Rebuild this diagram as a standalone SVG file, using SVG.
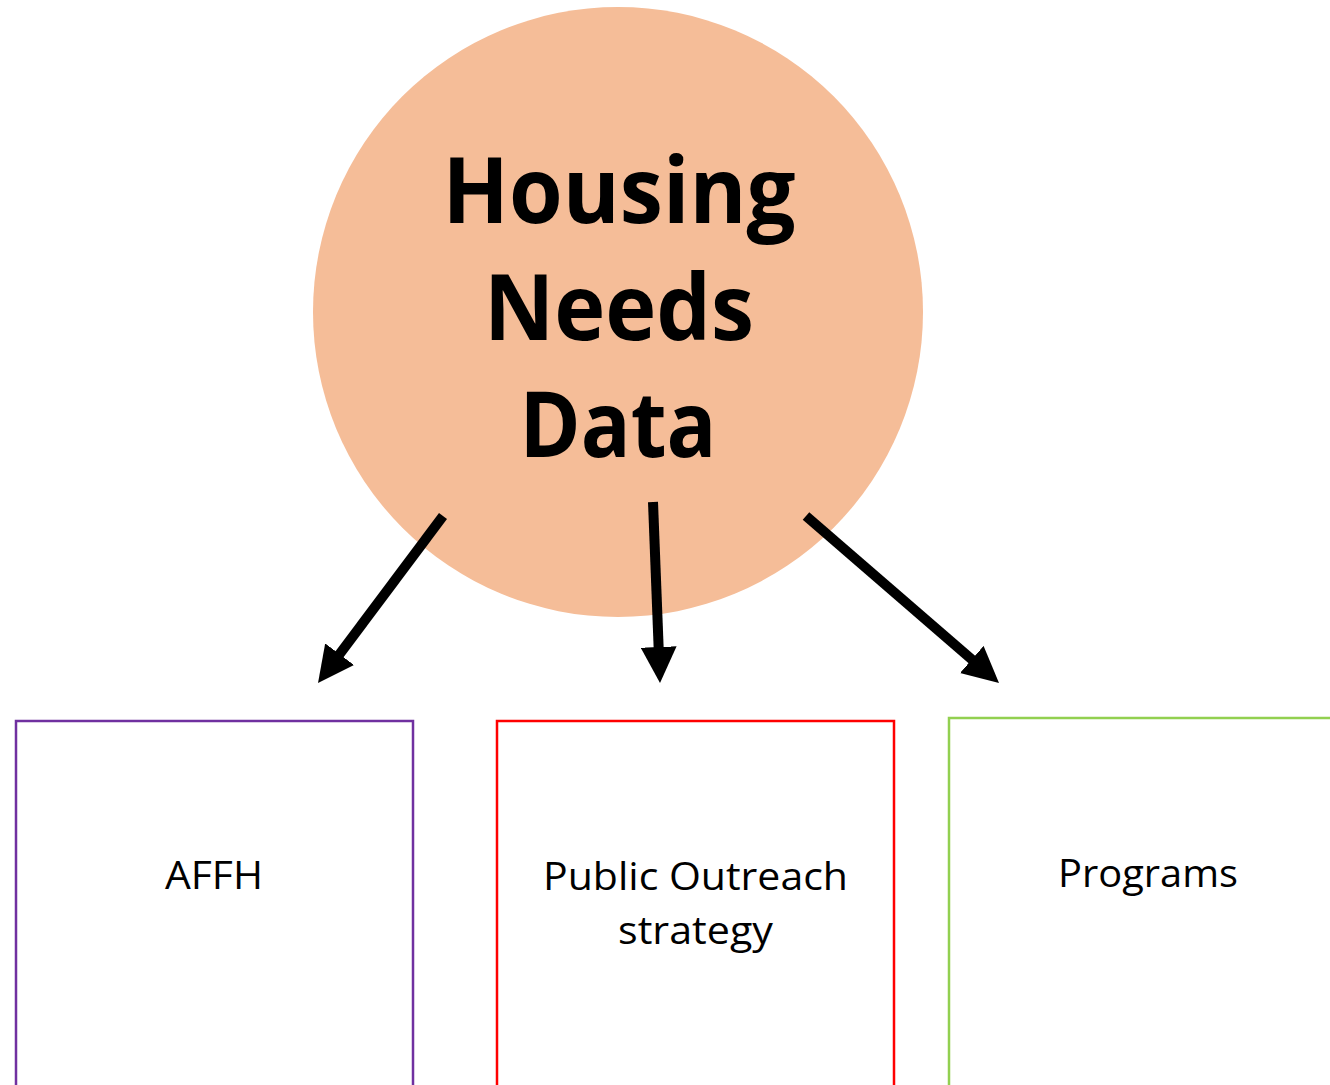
<svg xmlns="http://www.w3.org/2000/svg" width="1330" height="1085" viewBox="0 0 1330 1085">
  <style>
    .title { font-family: "Open Sans", "Liberation Sans", sans-serif; font-weight: bold; font-size: 92px; fill: #000; text-anchor: middle; }
    .label { font-family: "Open Sans", "Liberation Sans", sans-serif; font-size: 39px; fill: #000; text-anchor: middle; }
    .box { fill: #fff; stroke-width: 2.5; }
    .arrow { stroke: #000; stroke-width: 10; fill: none; marker-end: url(#head); }
  </style>
  <defs>
    <marker id="head" viewBox="0 0 36 36" refX="2" refY="18" markerWidth="36" markerHeight="36" markerUnits="userSpaceOnUse" orient="auto">
      <path d="M0,0 L36,18 L0,36 z" fill="#000"/>
    </marker>
  </defs>
  <rect width="1330" height="1085" fill="#fff"/>
  <g id="node-housing">
    <circle cx="618" cy="312" r="305" fill="#F5BD98"/>
    <text class="title" x="619" y="223" textLength="353" lengthAdjust="spacingAndGlyphs">Housing</text>
    <text class="title" x="619" y="340" textLength="270" lengthAdjust="spacingAndGlyphs">Needs</text>
    <text class="title" x="618" y="457" textLength="197" lengthAdjust="spacingAndGlyphs">Data</text>
  </g>
  <g id="node-affh">
    <rect class="box" x="16" y="721" width="397" height="380" stroke="#7030A0"/>
    <text class="label" x="214" y="889" textLength="98" lengthAdjust="spacingAndGlyphs">AFFH</text>
  </g>
  <g id="node-outreach">
    <rect class="box" x="497" y="721" width="397" height="380" stroke="#FF0000"/>
    <text class="label" x="695.5" y="890" textLength="305" lengthAdjust="spacingAndGlyphs">Public Outreach</text>
    <text class="label" x="695.5" y="944" textLength="155" lengthAdjust="spacingAndGlyphs">strategy</text>
  </g>
  <g id="node-programs">
    <rect class="box" x="949" y="718" width="400" height="380" stroke="#92D050"/>
    <text class="label" x="1148" y="887" textLength="180" lengthAdjust="spacingAndGlyphs">Programs</text>
  </g>
  <g id="connectors">
    <line class="arrow" x1="443" y1="516" x2="338.4" y2="655.8"/>
    <line class="arrow" x1="653" y1="502" x2="658.7" y2="649"/>
    <line class="arrow" x1="806" y1="516" x2="973.3" y2="660.8"/>
  </g>
</svg>
